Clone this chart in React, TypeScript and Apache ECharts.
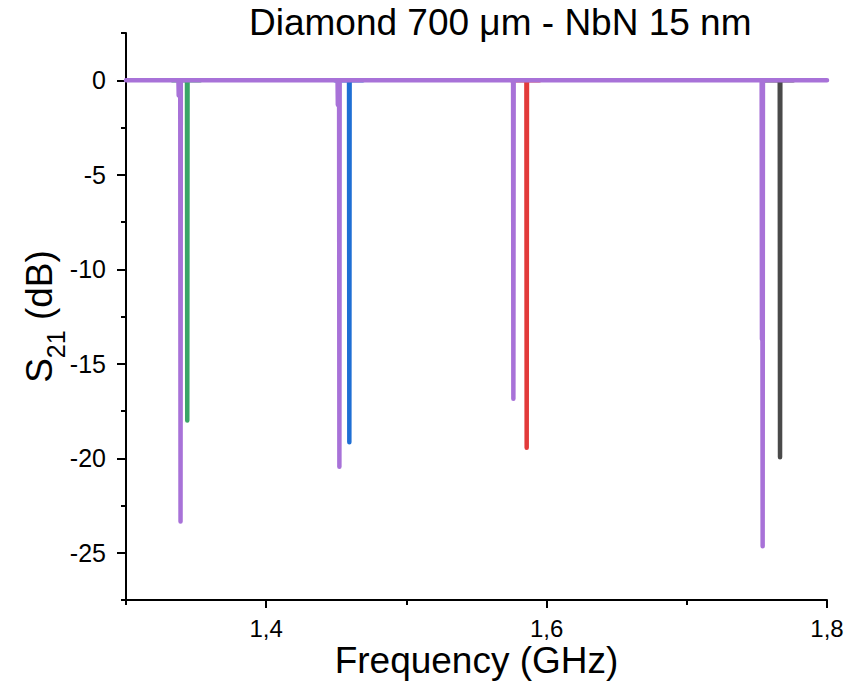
import React, { useEffect, useRef } from "react";
import * as echarts from "echarts";

const titleText = "Diamond 700 μm - NbN 15 nm";
const xName = "Frequency (GHz)";
const xMajorTicks = [1.4, 1.6, 1.8];
const yMajorTicks = [0, -5, -10, -15, -20, -25];

// purple reference trace, spanning the whole band
const purpleTrace: [number, number][] = [
  [1.3, 0],
  [1.3374, 0], [1.3376, -0.8], [1.3378, 0],
  [1.3387, 0], [1.3389, -23.35], [1.3391, 0],
  [1.4509, 0], [1.4511, -1.3], [1.4513, 0],
  [1.452, 0], [1.4522, -20.45], [1.4524, 0],
  [1.5761, 0], [1.5763, -16.85], [1.5765, 0],
  [1.7534, 0], [1.7536, -13.7], [1.7538, 0],
  [1.7539, 0], [1.7541, -24.65], [1.7543, 0],
  [1.8, 0],
];
const greenTrace: [number, number][] = [
  [1.333, 0], [1.3435, 0], [1.3437, -18.0], [1.3439, 0], [1.353, 0],
];
const blueTrace: [number, number][] = [
  [1.449, 0], [1.4591, 0], [1.4593, -19.15], [1.4595, 0], [1.469, 0],
];
const redTrace: [number, number][] = [
  [1.575, 0], [1.5856, 0], [1.5858, -19.45], [1.586, 0], [1.595, 0],
];
const grayTrace: [number, number][] = [
  [1.755, 0], [1.7663, 0], [1.7665, -19.95], [1.7667, 0], [1.776, 0],
];

const FONT = "'Liberation Sans', Arial, sans-serif";

export default function App() {
  const ref = useRef<HTMLDivElement>(null);
  useEffect(() => {
    if (!ref.current) return;
    const chart = echarts.init(ref.current, null, { renderer: "svg" });
    const mkLine = (data: [number, number][], color: string, width: number) => ({
      type: "line",
      data,
      xAxisIndex: 0,
      yAxisIndex: 0,
      symbol: "none",
      lineStyle: { color, width, cap: "round", join: "round" },
      itemStyle: { color },
    });
    chart.setOption({
      animation: false,
      backgroundColor: "#ffffff",
      textStyle: { fontFamily: FONT },
      title: {
        text: titleText,
        left: 244,
        top: -1,
        textStyle: { fontFamily: FONT, fontSize: 37, fontWeight: "normal", color: "#000" },
      },
      grid: { left: 126, right: 22, top: 33, bottom: 98, outerBoundsMode: "none" },
      xAxis: [
        {
          type: "value",
          min: 1.3,
          max: 1.8,
          interval: 0.1,
          name: xName,
          nameLocation: "middle",
          nameGap: 45,
          nameMoveOverlap: false,
          nameTextStyle: { fontFamily: FONT, fontSize: 37, lineHeight: 30, color: "#000" },
          axisLine: { show: true, onZero: false, lineStyle: { color: "#000", width: 2 } },
          axisTick: { show: true, length: 8, customValues: xMajorTicks, lineStyle: { color: "#000", width: 2 } },
          axisLabel: {
            customValues: xMajorTicks,
            margin: 18,
            fontFamily: FONT,
            fontSize: 24,
            lineHeight: 20,
            color: "#000",
            formatter: (v: number) => v.toFixed(1).replace(".", ","),
          },
          splitLine: { show: false },
        },
        {
          type: "value",
          min: 1.3,
          max: 1.8,
          interval: 0.1,
          position: "bottom",
          offset: 0,
          axisLine: { show: false, onZero: false },
          axisTick: { show: true, length: 5, lineStyle: { color: "#000", width: 2 } },
          axisLabel: { show: false },
          splitLine: { show: false },
        },
      ],
      yAxis: [
        {
          type: "value",
          min: -27.5,
          max: 2.5,
          interval: 2.5,
          name: "{m|S}{s|21}{m| (dB)}",
          nameLocation: "middle",
          nameGap: 58,
          nameMoveOverlap: false,
          nameTextStyle: {
            color: "#000",
            rich: {
              m: { fontFamily: FONT, fontSize: 37, color: "#000", verticalAlign: "middle", lineHeight: 40 },
              s: { fontFamily: FONT, fontSize: 25, color: "#000", verticalAlign: "bottom", lineHeight: 58 },
            },
          },
          axisLine: { show: true, onZero: false, lineStyle: { color: "#000", width: 2 } },
          axisTick: { show: true, length: 9, customValues: yMajorTicks, lineStyle: { color: "#000", width: 2 } },
          axisLabel: {
            customValues: yMajorTicks,
            margin: 20,
            fontFamily: FONT,
            fontSize: 25,
            color: "#000",
          },
          splitLine: { show: false },
        },
        {
          type: "value",
          min: -27.5,
          max: 2.5,
          interval: 2.5,
          position: "left",
          offset: 0,
          axisLine: { show: false, onZero: false },
          axisTick: { show: true, length: 5, lineStyle: { color: "#000", width: 2 } },
          axisLabel: { show: false },
          splitLine: { show: false },
        },
      ],
      series: [
        mkLine(greenTrace, "#3aa567", 4.5),
        mkLine(blueTrace, "#1f6fd4", 4.5),
        mkLine(redTrace, "#e23a3a", 4.5),
        mkLine(grayTrace, "#4a4a4a", 4.5),
        mkLine(purpleTrace, "#a872d8", 4.5),
      ],
    });
    return () => chart.dispose();
  }, []);
  return (
    <div
      ref={ref}
      style={{ position: "fixed", left: 0, top: 0, width: 849, height: 698 }}
    />
  );
}
